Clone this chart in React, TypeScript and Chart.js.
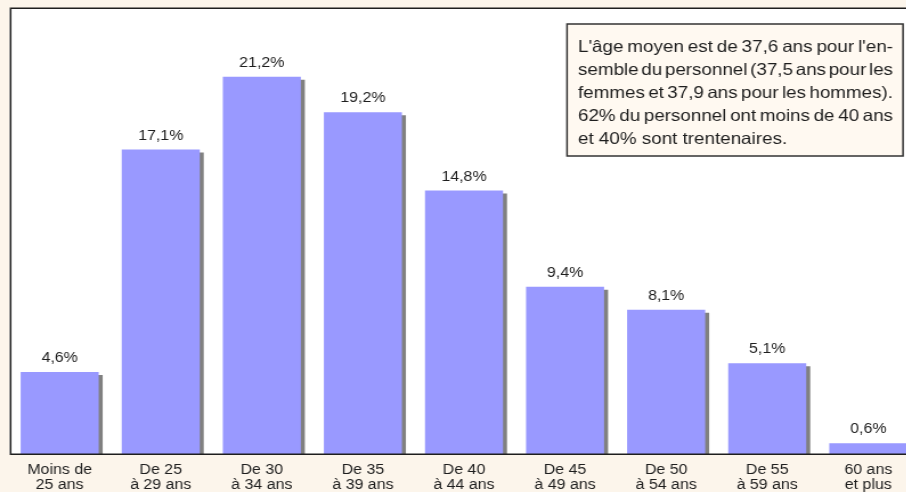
import { useEffect, useRef } from "react";
import { Chart, registerables } from "chart.js";

Chart.register(...registerables);

// ---- data ----
const categories: string[][] = [
  ["Moins de", "25 ans"],
  ["De 25", "à 29 ans"],
  ["De 30", "à 34 ans"],
  ["De 35", "à 39 ans"],
  ["De 40", "à 44 ans"],
  ["De 45", "à 49 ans"],
  ["De 50", "à 54 ans"],
  ["De 55", "à 59 ans"],
  ["60 ans", "et plus"],
];
const shares: number[] = [4.6, 17.1, 21.2, 19.2, 14.8, 9.4, 8.1, 5.1, 0.6];
const valueLabels: string[] = ["4,6%", "17,1%", "21,2%", "19,2%", "14,8%", "9,4%", "8,1%", "5,1%", "0,6%"];
const noteLines: string[] = [
  "L'âge moyen est de 37,6 ans pour l'en-",
  "semble du personnel (37,5 ans pour les",
  "femmes et 37,9 ans pour les hommes).",
  "62% du personnel ont moins de 40 ans",
  "et 40% sont trentenaires.",
];
const yMax = 25;

// ---- style ----
const SX = 1.14; // horizontal stretch of the original picture
const FONT = '"Liberation Sans", Arial, Helvetica, sans-serif';
const PAGE_BG = "#FCF5EB";
const BOX_BG = "#FFF9F1";
const BAR = "#9999FF";
const SHADOW = "#808080";
const INK = "#1e1e1e";

const decoPlugin = {
  id: "deco",
  beforeDraw(chart: any) {
    const { ctx, chartArea: a, width, height } = chart;
    ctx.save();
    ctx.fillStyle = PAGE_BG;
    ctx.fillRect(0, 0, width, height);
    ctx.fillStyle = "#ffffff";
    ctx.fillRect(a.left, a.top - 1, a.right - a.left, a.bottom - a.top + 1);
    ctx.restore();
  },
  beforeDatasetsDraw(chart: any) {
    const ctx = chart.ctx;
    ctx.save();
    ctx.shadowColor = SHADOW;
    ctx.shadowOffsetX = 3.5;
    ctx.shadowOffsetY = 3;
    ctx.shadowBlur = 0;
  },
  afterDatasetsDraw(chart: any) {
    const { ctx, chartArea: a } = chart;
    ctx.restore();
    ctx.save();
    // frame
    ctx.strokeStyle = INK;
    ctx.lineWidth = 1.5;
    const lx = a.left + 1.3;
    const ty = a.top - 0.7;
    const by = a.bottom + 0.3;
    ctx.beginPath();
    ctx.moveTo(a.right + 5, ty);
    ctx.lineTo(lx, ty);
    ctx.lineTo(lx, by);
    ctx.lineTo(a.right + 5, by);
    ctx.stroke();

    // value labels
    const meta = chart.getDatasetMeta(0);
    ctx.fillStyle = INK;
    ctx.font = `14px ${FONT}`;
    ctx.textAlign = "center";
    ctx.textBaseline = "alphabetic";
    meta.data.forEach((bar: any, i: number) => {
      ctx.fillText(valueLabels[i], bar.x, bar.y - 10);
    });

    // note box
    const bx = 567 / SX;
    const by0 = 24;
    const bw = (903 - 567) / SX;
    const bh = 132;
    ctx.fillStyle = BOX_BG;
    ctx.fillRect(bx, by0, bw, bh);
    ctx.strokeStyle = "#333333";
    ctx.lineWidth = 1.5;
    ctx.strokeRect(bx, by0, bw, bh);

    ctx.fillStyle = INK;
    ctx.font = `16.5px ${FONT}`;
    ctx.textAlign = "left";
    const tx = 578 / SX;
    const tw = (893 - 578) / SX;
    noteLines.forEach((line, i) => {
      const y = 52 + i * 23.1;
      const words = line.split(" ");
      if (i === noteLines.length - 1 || words.length < 2) {
        ctx.fillText(line, tx, y);
        return;
      }
      const widths = words.map((w) => ctx.measureText(w).width);
      const sum = widths.reduce((s, v) => s + v, 0);
      const gap = (tw - sum) / (words.length - 1);
      let x = tx;
      words.forEach((w, k) => {
        ctx.fillText(w, x, y);
        x += widths[k] + gap;
      });
    });
    ctx.restore();
  },
};

export default function App() {
  const ref = useRef<HTMLCanvasElement | null>(null);

  useEffect(() => {
    if (!ref.current) return;
    const chart = new Chart(ref.current, {
      type: "bar",
      data: {
        labels: categories,
        datasets: [
          {
            data: shares,
            backgroundColor: BAR,
            borderWidth: 0,
            barPercentage: 0.772,
            categoryPercentage: 1,
            clip: 0,
          } as any,
        ],
      },
      options: {
        animation: false,
        responsive: false,
        maintainAspectRatio: false,
        devicePixelRatio: 1,
        layout: { padding: { left: 8, right: 0, top: 9, bottom: 0 } },
        plugins: {
          legend: { display: false },
          tooltip: { enabled: false },
          title: { display: false },
        },
        scales: {
          x: {
            grid: { display: false, drawTicks: false },
            border: { display: false },
            ticks: {
              color: INK,
              font: { family: FONT, size: 14, lineHeight: 1.1 },
              padding: 8.5,
              maxRotation: 0,
              minRotation: 0,
              autoSkip: false,
            },
            afterFit(scale: any) {
              scale.height = 38;
            },
          },
          y: {
            display: false,
            min: 0,
            max: yMax,
          },
        },
      },
      plugins: [decoPlugin],
    });
    return () => chart.destroy();
  }, []);

  return (
    <div
      style={{
        position: "fixed",
        left: 0,
        top: 0,
        width: 906,
        height: 492,
        overflow: "hidden",
        background: PAGE_BG,
      }}
    >
      <canvas
        ref={ref}
        width={806}
        height={492}
        style={{ transform: `scaleX(${SX})`, transformOrigin: "0 0", display: "block" }}
      />
    </div>
  );
}
